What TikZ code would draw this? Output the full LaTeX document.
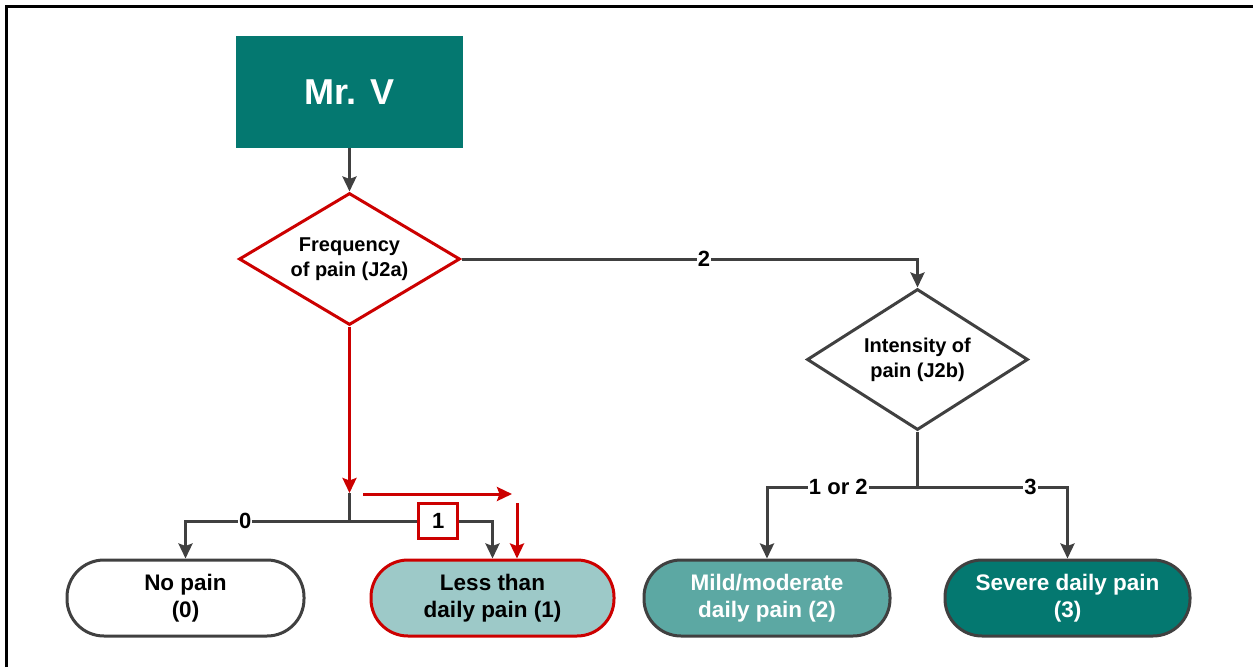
\documentclass[tikz,border=0pt]{standalone}
\usepackage{fontspec}
\setmainfont{Liberation Sans}
\usetikzlibrary{
    shapes.geometric,
    arrows.meta
}
\definecolor{tealdark}{RGB}{4,120,112}
\definecolor{tealmid}{RGB}{92,168,163}
\definecolor{teallight}{RGB}{157,201,200}
\definecolor{hlred}{RGB}{204,0,0}
\definecolor{linegray}{RGB}{64,64,64}
\tikzset {
    start box/.style = {rectangle, fill = tealdark, text = white,
        minimum width = 227pt, minimum height = 112pt,
        font = \fontsize{36}{40}\selectfont\bfseries},
    decision/.style = {diamond, draw = linegray, line width = 3pt,
        inner sep = 0pt, align = center,
        minimum width = 221pt, minimum height = #1,
        font = \fontsize{20}{25}\selectfont\bfseries},
    outcome/.style = {rectangle, rounded corners = 37pt, draw = linegray,
        line width = 3pt, minimum height = 76pt, align = center,
        font = \fontsize{22.5}{27}\selectfont\bfseries},
    plain/.style = {draw = linegray, line width = 3pt},
    conn/.style = {plain, -{Stealth[length = 15pt, width = 14pt, inset = 2.5pt]}},
    hl/.style = {draw = hlred, line width = 3pt,
        -{Stealth[length = 15pt, width = 14pt, inset = 2.5pt]}},
    pathlabel/.style = {fill = white, inner sep = 1pt,
        font = \fontsize{22}{22}\selectfont\bfseries},
    frame/.style = {line width = 3pt}
}
\begin{document}
\begin{tikzpicture}[x = 1pt, y = -1pt]
    \useasboundingbox (0, 0) rectangle (1253, 667);
    \draw [frame] (6, 667) -- (6, 6) -- (1253, 6);

    \node (mrv) [start box] at (349.5, 92) {Mr. V};
    \node (freq) [decision = 132pt, aspect = 1.67, draw = hlred]
        at (349.5, 259) {Frequency\\of pain (J2a)};
    \node (intens) [decision = 141pt, aspect = 1.57]
        at (917.5, 359.5) {Intensity of\\pain (J2b)};

    \node (nopain) [outcome, minimum width = 237pt, fill = white]
        at (185.5, 598) {No pain\\(0)};
    \node (lessdaily) [outcome, minimum width = 243pt, fill = teallight, draw = hlred]
        at (492.5, 598) {Less than\\daily pain (1)};
    \node (mild) [outcome, minimum width = 246pt, fill = tealmid, text = white]
        at (767, 598) {Mild/moderate\\daily pain (2)};
    \node (severe) [outcome, minimum width = 245pt, fill = tealdark, text = white]
        at (1067.5, 598) {Severe daily pain\\(3)};

    \coordinate (split1) at (349.5, 493);
    \coordinate (branch1) at (349.5, 521);
    \coordinate (branch2) at (917.5, 487);
    \coordinate (hlstart) at (363, 494);
    \coordinate (hlend) at (512, 494);
    \coordinate (hltop) at (517, 503);

    \draw [conn] (mrv) -- (freq);
    \draw [conn] (freq.east) -| node [pathlabel, pos = 0.266] {2} (intens.north);

    % first question
    \draw [hl] (freq.south) -- (split1);
    \draw [plain] (split1) -- (branch1);
    \draw [conn] (branch1) -| node [pathlabel, pos = 0.318] {0} (nopain.north);
    \draw [conn] (branch1) -| node [pathlabel, pos = 0.31, draw = hlred,
        line width = 2.5pt, minimum width = 39pt, minimum height = 35pt] {1}
        (lessdaily.north);
    \draw [hl] (hlstart) -- (hlend);
    \draw [hl] (hltop) -- ([xshift = 24.5pt] lessdaily.north);

    % second question
    \draw [plain] (intens.south) -- (branch2);
    \draw [conn] (branch2) -| node [pathlabel, pos = 0.263] {1 or 2} (mild.north);
    \draw [conn] (branch2) -| node [pathlabel, pos = 0.377] {3} (severe.north);
\end{tikzpicture}
\end{document}
